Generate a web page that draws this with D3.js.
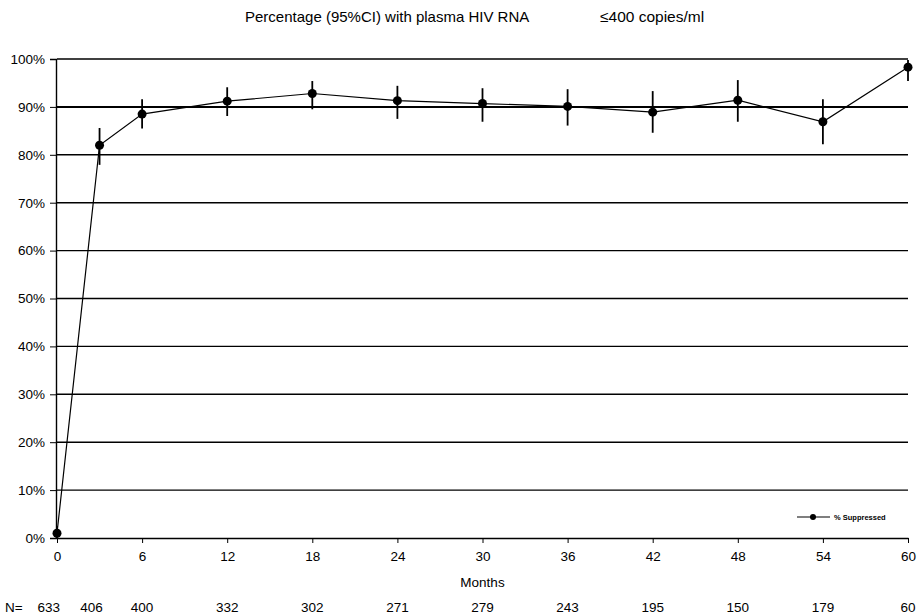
<!DOCTYPE html>
<html>
<head>
<meta charset="utf-8">
<script src="https://cdn.jsdelivr.net/npm/d3@7"></script>
<style>
  body { margin: 0; background: #fff; }
  text { font-family: "Liberation Sans", Arial, sans-serif; fill: #000; }
</style>
</head>
<body>
<svg id="chart" width="923" height="616"></svg>
<script>
// ---------------------------------------------------------------
//    DATA
// ---------------------------------------------------------------
const months = [0, 3, 6, 12, 18, 24, 30, 36, 42, 48, 54, 60];
const suppressed = [1.0, 82.0, 88.5, 91.2, 92.8, 91.3, 90.7, 90.1, 88.9, 91.4, 86.9, 98.3];
const ciLow = [0.0, 77.9, 85.5, 88.1, 89.5, 87.5, 86.9, 86.1, 84.6, 86.9, 82.2, 95.4];
const ciHigh = [2.5, 85.6, 91.6, 94.1, 95.4, 94.4, 93.9, 93.7, 93.3, 95.6, 91.6, 99.8];
const nAtRisk = [633, 406, 400, 332, 302, 271, 279, 243, 195, 150, 179, 60];
const xTicks = [0, 6, 12, 18, 24, 30, 36, 42, 48, 54, 60];
const yTicks = [0, 10, 20, 30, 40, 50, 60, 70, 80, 90, 100];

const points = months.map((m, i) => ({ m: m, v: suppressed[i], lo: ciLow[i], hi: ciHigh[i] }));

const svg = d3.select("#chart");
const FONT = "Liberation Sans, Arial, sans-serif";

const x = d3.scaleLinear().domain([0, 60]).range([57, 908]);
const y = d3.scaleLinear().domain([0, 100]).range([538, 59]);

// Title
svg.append("text")
    .attr("x", 245).attr("y", 22)
    .attr("font-size", 15)
    .text("Percentage (95%CI) with plasma HIV RNA");
svg.append("text")
    .attr("x", 600).attr("y", 22)
    .attr("font-size", 15.5)
    .text("\u2264400 copies/ml");

// Gridlines
svg.append("g")
    .selectAll("line")
    .data(yTicks.filter(d => d > 0))
    .join("line")
    .attr("x1", x(0)).attr("x2", x(60))
    .attr("y1", d => y(d)).attr("y2", d => y(d))
    .attr("stroke", "#000")
    .attr("stroke-width", d => d === 90 ? 2 : 1.4);

// Y axis
const yAxis = d3.axisLeft(y)
    .tickValues(yTicks)
    .tickFormat(d => d + "%")
    .tickSize(6)
    .tickPadding(5);
svg.append("g")
    .attr("transform", `translate(${x(0) - 1},0)`)
    .call(yAxis)
    .call(g => g.select(".domain").attr("stroke-width", 1.4))
    .call(g => g.selectAll("text").attr("font-size", 13.5).attr("font-family", FONT));

// X axis
const xAxis = d3.axisBottom(x)
    .tickValues(xTicks)
    .tickSize(5)
    .tickPadding(8)
    .tickSizeOuter(0);
svg.append("g")
    .attr("transform", `translate(0,${y(0)})`)
    .call(xAxis)
    .call(g => g.select(".domain").attr("stroke-width", 1.4))
    .call(g => g.selectAll("text").attr("font-size", 13.5).attr("font-family", FONT));

// Axis title
svg.append("text")
    .attr("x", x(30)).attr("y", 587)
    .attr("text-anchor", "middle")
    .attr("font-size", 13.5)
    .text("Months");

// N row
svg.append("text")
    .attr("x", 5).attr("y", 612)
    .attr("font-size", 13.5)
    .text("N=");
svg.append("g")
    .selectAll("text")
    .data(nAtRisk)
    .join("text")
    .attr("x", (d, i) => i === 0 ? x(months[i]) + 3 : (i === 1 ? x(months[i]) - 8 : x(months[i])))
    .attr("y", 612)
    .attr("text-anchor", (d, i) => i === 0 ? "end" : "middle")
    .attr("font-size", 13.5)
    .text(d => d);

// Error bars
svg.append("g")
    .selectAll("line")
    .data(points)
    .join("line")
    .attr("x1", d => x(d.m)).attr("x2", d => x(d.m))
    .attr("y1", d => y(d.lo)).attr("y2", d => y(d.hi))
    .attr("stroke", "#000")
    .attr("stroke-width", 1.8);

// Line
const line = d3.line().x(d => x(d.m)).y(d => y(d.v));
svg.append("path")
    .datum(points)
    .attr("d", line)
    .attr("fill", "none")
    .attr("stroke", "#000")
    .attr("stroke-width", 1.2);

// Markers
svg.append("g")
    .selectAll("circle")
    .data(points)
    .join("circle")
    .attr("cx", d => x(d.m))
    .attr("cy", d => y(d.v))
    .attr("r", 4.5)
    .attr("fill", "#000");

// Legend
const legend = svg.append("g").attr("transform", "translate(797,517)");
legend.append("line")
    .attr("x1", 0).attr("x2", 33)
    .attr("stroke", "#000").attr("stroke-width", 1.2);
legend.append("circle")
    .attr("cx", 16).attr("r", 3)
    .attr("fill", "#000");
legend.append("text")
    .attr("x", 37).attr("y", 3)
    .attr("font-size", 7.5)
    .attr("font-weight", "bold")
    .text("% Suppressed");
</script>
</body>
</html>
